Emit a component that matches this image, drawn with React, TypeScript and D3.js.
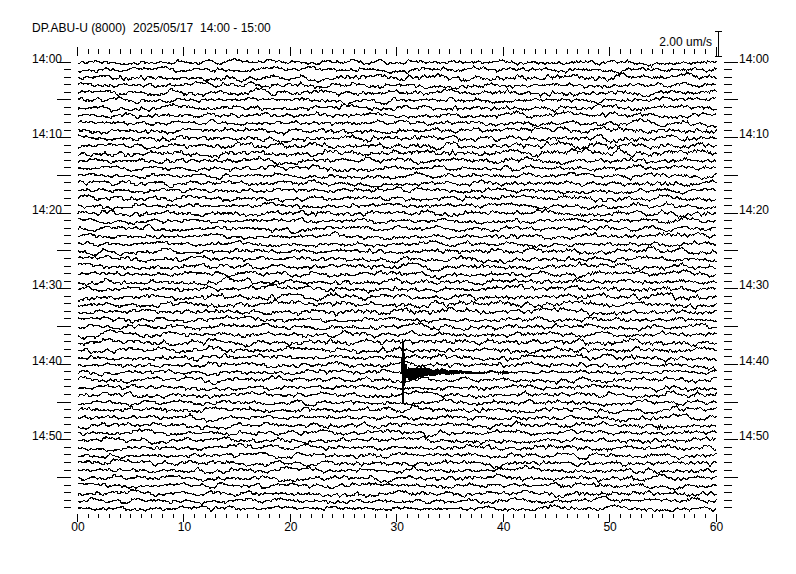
import React, { useMemo } from 'react';
import * as d3 from 'd3';

// ---- labels ----
const STATION = 'DP.ABU-U (8000)';
const DATE_LABEL = '2025/05/17';
const RANGE_LABEL = '14:00 - 15:00';
const SCALE_LABEL = '2.00 um/s';
const SCALE_VALUE = 2.0; // um/s

const ROW_COUNT = 60; // one trace per minute, 14:00 .. 14:59
const secondTicks = d3.range(0, 61);
const secondLabels = ['00', '10', '20', '30', '40', '50', '60'];
const hourLabels = ['14:00', '14:10', '14:20', '14:30', '14:40', '14:50'];

// rms background noise of each minute row (um/s)
const rowNoise = [
  0.10, 0.11, 0.14, 0.11, 0.12, 0.11, 0.12, 0.11, 0.11, 0.12,
  0.13, 0.13, 0.14, 0.12, 0.11, 0.11, 0.12, 0.11, 0.12, 0.11,
  0.12, 0.11, 0.12, 0.11, 0.11, 0.12, 0.12, 0.13, 0.12, 0.12,
  0.12, 0.13, 0.13, 0.12, 0.11, 0.12, 0.12, 0.13, 0.12, 0.12,
  0.12, 0.11, 0.12, 0.11, 0.12, 0.11, 0.12, 0.11, 0.12, 0.11,
  0.12, 0.12, 0.11, 0.12, 0.11, 0.12, 0.11, 0.12, 0.11, 0.10,
];

// local event at 14:41:30.5 — amplitude envelope (um/s) against seconds
const eventRow = 41;
const eventTime = [30.5, 30.7, 31.0, 32.0, 33.5, 35.0, 37.0, 39.0, 41.0];
const eventEnv = [2.95, 0.9, 0.55, 0.45, 0.32, 0.2, 0.12, 0.07, 0.0];
const eventBoldUntil = 33.5; // seconds drawn with a heavier pen

// small glitch
const glitchRow = 48;
const glitchTime = 54.6;
const glitchAmp = 0.18;

// ---- helpers for the noise texture ----
function mulberry32(a: number) {
  return function () {
    a |= 0;
    a = (a + 0x6d2b79f5) | 0;
    let t = Math.imul(a ^ (a >>> 15), 1 | a);
    t = (t + Math.imul(t ^ (t >>> 7), 61 | t)) ^ t;
    return ((t ^ (t >>> 14)) >>> 0) / 4294967296;
  };
}
function smooth(arr: number[], sigma: number) {
  const r = Math.ceil(sigma * 3);
  const k: number[] = [];
  for (let i = -r; i <= r; i++) k.push(Math.exp(-(i * i) / (2 * sigma * sigma)));
  const out = new Array(arr.length).fill(0);
  for (let i = 0; i < arr.length; i++) {
    let s = 0, w = 0;
    for (let j = -r; j <= r; j++) {
      const idx = i + j;
      if (idx < 0 || idx >= arr.length) continue;
      s += arr[idx] * k[j + r];
      w += k[j + r];
    }
    out[i] = s / w;
  }
  return out;
}
function norm(arr: number[]) {
  const rms = Math.sqrt(d3.mean(arr, (d) => d * d) || 1);
  return arr.map((d) => d / rms);
}

const N = 640;

function buildRow(row: number): [number, number][] {
  const rnd = mulberry32(1000 + row * 7919);
  const white = d3.range(N + 40).map(() => rnd() + rnd() + rnd() - 1.5);
  const lf = norm(smooth(white, 4.5));
  const white2 = d3.range(N + 40).map(() => rnd() + rnd() + rnd() - 1.5);
  const mf = norm(smooth(white2, 1.1));
  const hf = norm(d3.range(N + 40).map(() => rnd() - 0.5));
  const mix = norm(lf.map((v, i) => v * 1.0 + mf[i] * 0.7 + hf[i] * 0.45)).slice(20, 20 + N);
  const amp = rowNoise[row];
  const dt = 60 / (N - 1);
  const noiseAt = (t: number) => {
    const f = t / dt;
    const i = Math.min(N - 2, Math.max(0, Math.floor(f)));
    const u = f - i;
    return (mix[i] * (1 - u) + mix[i + 1] * u) * amp;
  };
  const pts: [number, number][] = [];
  if (row === eventRow) {
    const env = d3.scaleLinear().domain(eventTime).range(eventEnv).clamp(true);
    const t0 = eventTime[0];
    const t1 = eventTime[eventTime.length - 1];
    for (let i = 0; i < N; i++) {
      const t = i * dt;
      if (t < t0) pts.push([t, noiseAt(t)]);
    }
    const fine = dt / 5;
    const rndE = mulberry32(4242);
    let k = 0;
    for (let t = t0; t <= t1; t += fine, k++) {
      const e = env(t);
      const sign = k % 2 === 0 ? 1 : -1;
      const osc = t < 30.62 ? sign * (0.85 + 0.15 * rndE()) : sign * (0.4 + 0.6 * rndE());
      pts.push([t, e * osc + noiseAt(t) * 0.45]);
    }
    for (let i = 0; i < N; i++) {
      const t = i * dt;
      if (t > t1) pts.push([t, noiseAt(t) * 0.7]);
    }
    return pts;
  }
  for (let i = 0; i < N; i++) {
    const t = i * dt;
    let v = noiseAt(t);
    if (row === glitchRow && Math.abs(t - glitchTime) < 0.15) {
      const s = Math.round((t - glitchTime) / dt);
      v += (s % 2 === 0 ? 1 : -1) * glitchAmp;
    }
    pts.push([t, v]);
  }
  return pts;
}

export default function App() {
  const width = 796;
  const height = 574;
  const x = d3.scaleLinear().domain([0, 60]).range([78, 716.5]);
  const rowY = d3.scaleLinear().domain([0, ROW_COUNT - 1]).range([62.5, 508.3]);
  const amp = d3.scaleLinear().domain([0, SCALE_VALUE]).range([0, 24.7]);

  const rows = useMemo(() => d3.range(ROW_COUNT).map((r) => buildRow(r)), []);

  const crisp = (v: number) => Math.round(v) + 0.5;
  const font = "'Liberation Sans', Arial, Helvetica, sans-serif";

  const barX = 718.5;
  const barBottom = 55.7;
  const barTop = barBottom - amp(SCALE_VALUE);

  const lineFor = (r: number) =>
    d3
      .line<[number, number]>()
      .x((d) => x(d[0]))
      .y((d) => rowY(r) - amp(d[1]));

  const eventPts = rows[eventRow].filter((d) => d[0] >= eventTime[0] && d[0] <= eventBoldUntil);

  return (
    <svg
      width={width}
      height={height}
      style={{ position: 'absolute', left: 0, top: 0, background: '#fff' }}
      fontFamily={font}
      fontSize={12}
    >
      <rect width={width} height={height} fill="#fff" />
      <text x={32} y={32} fill="#000">{STATION}</text>
      <text x={133} y={32} fill="#000">{DATE_LABEL}</text>
      <text x={200} y={32} fill="#000">{RANGE_LABEL}</text>

      {/* amplitude scale */}
      <text x={712} y={46} textAnchor="end" fill="#000">{SCALE_LABEL}</text>
      <g stroke="#000" strokeWidth={1} shapeRendering="crispEdges">
        <line x1={barX} x2={barX} y1={Math.round(barTop)} y2={Math.round(barBottom)} />
        <line x1={715} x2={722} y1={crisp(barTop) - 0.5} y2={crisp(barTop) - 0.5} />
        <line x1={715} x2={722} y1={crisp(barBottom) - 0.5} y2={crisp(barBottom) - 0.5} />
      </g>

      {/* second ticks top and bottom */}
      <g stroke="#000" strokeWidth={1} shapeRendering="crispEdges">
        {secondTicks.map((s) => {
          const xx = crisp(x(s)) - 1;
          const long = s % 10 === 0;
          return (
            <g key={s}>
              <line x1={xx} x2={xx} y1={long ? 47 : 49} y2={long ? 56 : 54} />
              <line x1={xx} x2={xx} y1={514} y2={long ? 522 : 518} />
            </g>
          );
        })}
      </g>
      {secondLabels.map((l, i) => (
        <text key={l} x={x(i * 10)} y={531} textAnchor="middle" fill="#000">{l}</text>
      ))}

      {/* minute ticks left and right */}
      <g stroke="#000" strokeWidth={1} shapeRendering="crispEdges">
        {d3.range(ROW_COUNT).map((r) => {
          const yy = crisp(rowY(r)) - 1;
          const long = r % 5 === 0;
          return (
            <g key={r}>
              <line x1={long ? 57 : 64} x2={71} y1={yy} y2={yy} />
              <line x1={724} x2={long ? 738 : 732} y1={yy} y2={yy} />
            </g>
          );
        })}
      </g>
      {hourLabels.map((l, i) => (
        <g key={l}>
          <text x={62} y={rowY(i * 10)} textAnchor="end" fill="#000">{l}</text>
          <text x={739} y={rowY(i * 10)} fill="#000">{l}</text>
        </g>
      ))}

      {/* traces */}
      <g fill="none" stroke="#000" strokeWidth={1.15} shapeRendering="crispEdges">
        {rows.map((pts, r) => (
          <path key={r} d={lineFor(r)(pts) || ''} />
        ))}
        <path d={lineFor(eventRow)(eventPts) || ''} strokeWidth={1.8} />
      </g>
    </svg>
  );
}
